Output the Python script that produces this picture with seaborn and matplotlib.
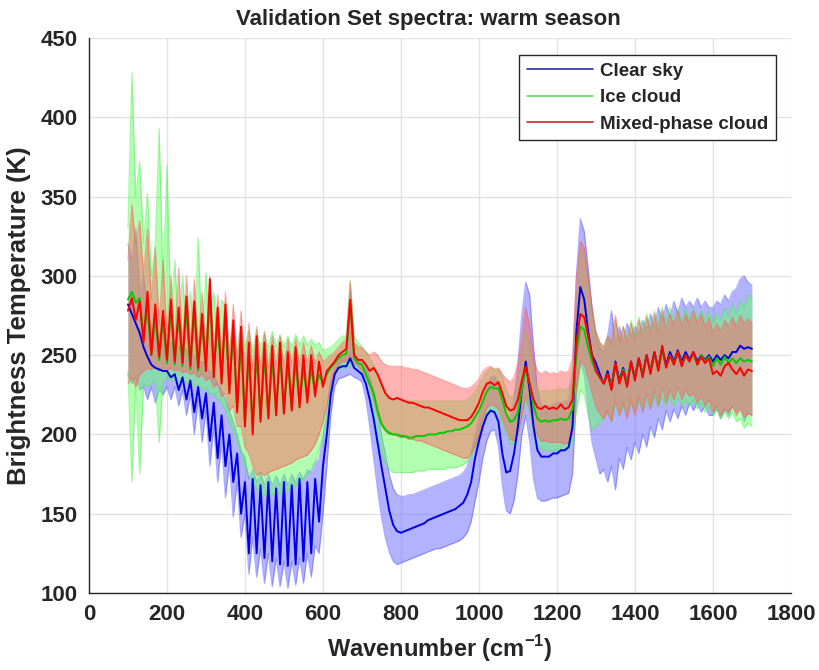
import numpy as np
import pandas as pd
import matplotlib
matplotlib.use("Agg")
import matplotlib.pyplot as plt
from matplotlib.lines import Line2D
import seaborn as sns

# ---------------- data ----------------
wavenumber = np.arange(100, 1701, 10)

clear_mean = [
    282, 276, 270, 264, 255, 249, 244, 242, 241, 240,
    240, 236, 238, 228, 236, 222, 234, 214, 230, 210,
    226, 196, 220, 185, 212, 180, 200, 170, 188, 150,
    170, 125, 172, 125, 168, 122, 170, 120, 166, 118,
    170, 117, 168, 118, 172, 120, 170, 125, 172, 145,
    180, 200, 225, 238, 242, 243, 243, 248, 242, 240,
    238, 232, 222, 210, 195, 180, 166, 152, 143, 139,
    138, 139, 140, 141, 142, 143, 144, 146, 147, 148,
    149, 150, 151, 152, 153, 155, 157, 162, 170, 185,
    196, 205, 212, 215, 214, 208, 188, 176, 177, 188,
    205, 228, 246, 228, 205, 190, 186, 186, 186, 188,
    188, 190, 190, 192, 205, 265, 293, 285, 265, 250,
    245, 238, 232, 240, 230, 246, 234, 242, 232, 246,
    236, 248, 238, 250, 240, 252, 242, 254, 244, 252,
    246, 253, 246, 252, 247, 252, 246, 250, 247, 250,
    246, 250, 247, 250, 248, 252, 252, 256, 254, 255,
    254]
clear_lo = [
    238, 232, 236, 228, 230, 222, 230, 220, 228, 225,
    230, 222, 230, 218, 228, 212, 225, 200, 222, 195,
    215, 180, 205, 170, 195, 160, 182, 148, 170, 135,
    150, 112, 135, 110, 128, 106, 125, 104, 122, 104,
    120, 103, 120, 105, 122, 106, 125, 110, 130, 125,
    150, 180, 212, 230, 235, 236, 237, 238, 236, 235,
    233, 222, 205, 185, 165, 148, 135, 126, 120, 118,
    119, 120, 121, 122, 123, 124, 125, 126, 127, 128,
    128, 129, 130, 131, 132, 133, 135, 138, 145, 158,
    170, 185, 196, 202, 203, 193, 168, 152, 150, 158,
    175, 200, 212, 196, 172, 160, 158, 158, 159, 160,
    160, 161, 162, 163, 175, 225, 245, 238, 215, 195,
    185, 175, 178, 170, 180, 165, 185, 178, 192, 184,
    195, 188, 200, 192, 205, 198, 210, 203, 215, 208,
    216, 210, 218, 212, 220, 215, 220, 214, 218, 212,
    212, 216, 210, 216, 212, 218, 214, 218, 208, 214,
    212]
clear_hi = [
    320, 310, 330, 290, 300, 280, 265, 270, 258, 262,
    256, 258, 254, 256, 252, 254, 250, 250, 246, 246,
    244, 240, 238, 232, 228, 222, 215, 208, 200, 190,
    185, 172, 178, 170, 176, 168, 175, 168, 174, 168,
    175, 168, 175, 170, 176, 172, 178, 176, 182, 185,
    198, 215, 235, 244, 248, 249, 250, 290, 249, 247,
    245, 242, 236, 228, 215, 200, 188, 175, 166, 162,
    161, 161, 162, 162, 163, 164, 165, 166, 167, 168,
    169, 170, 171, 172, 173, 174, 176, 180, 188, 200,
    210, 222, 230, 236, 237, 232, 222, 212, 210, 222,
    245, 275, 296, 288, 255, 228, 218, 218, 218, 219,
    220, 220, 221, 222, 240, 300, 336, 328, 305, 280,
    262, 255, 252, 262, 278, 258, 268, 258, 270, 262,
    268, 264, 272, 266, 276, 268, 280, 272, 282, 274,
    284, 276, 286, 280, 284, 280, 286, 280, 284, 280,
    280, 284, 282, 288, 284, 290, 292, 298, 300, 296,
    294]

ice_mean = [
    285, 290, 283, 286, 262, 280, 250, 275, 247, 272,
    245, 278, 244, 275, 243, 280, 241, 278, 240, 270,
    242, 290, 238, 272, 234, 275, 228, 265, 216, 258,
    208, 250, 204, 252, 210, 250, 212, 248, 214, 250,
    215, 245, 217, 246, 219, 242, 222, 242, 226, 238,
    232, 238, 242, 245, 248, 250, 251, 283, 248, 245,
    244, 238, 232, 226, 215, 207, 203, 201, 200, 200,
    199, 199, 198, 198, 199, 199, 199, 200, 200, 200,
    201, 201, 202, 202, 203, 203, 204, 205, 207, 211,
    215, 221, 227, 230, 229, 229, 222, 213, 208, 209,
    214, 228, 242, 232, 218, 210, 208, 209, 208, 209,
    209, 210, 209, 210, 216, 250, 268, 266, 255, 246,
    240, 236, 233, 238, 230, 244, 233, 241, 232, 245,
    236, 247, 238, 249, 240, 251, 242, 253, 243, 250,
    245, 252, 244, 250, 246, 251, 244, 250, 246, 249,
    243, 248, 244, 249, 245, 248, 245, 248, 246, 247,
    246]
ice_lo = [
    240, 170, 235, 175, 232, 230, 232, 234, 195, 234,
    236, 234, 236, 233, 235, 232, 234, 230, 232, 228,
    230, 225, 226, 222, 220, 215, 208, 202, 195, 188,
    180, 175, 168, 166, 162, 162, 161, 162, 162, 163,
    163, 165, 166, 168, 170, 172, 175, 178, 183, 190,
    198, 210, 228, 238, 241, 242, 242, 244, 242, 240,
    238, 232, 224, 212, 198, 188, 182, 178, 176, 176,
    176, 176, 176, 176, 177, 177, 177, 178, 178, 178,
    178, 178, 179, 179, 179, 180, 181, 183, 186, 192,
    199, 207, 213, 216, 215, 213, 208, 200, 194, 194,
    199, 210, 222, 214, 200, 194, 191, 190, 190, 190,
    190, 190, 190, 191, 196, 215, 228, 225, 212, 203,
    205, 208, 210, 214, 208, 220, 212, 218, 212, 220,
    214, 222, 215, 222, 216, 224, 217, 224, 218, 224,
    218, 224, 218, 222, 218, 222, 216, 220, 214, 218,
    212, 216, 210, 214, 210, 214, 208, 210, 204, 207,
    205]
ice_hi = [
    330, 428, 350, 372, 320, 352, 300, 320, 393, 295,
    370, 275, 310, 265, 300, 262, 290, 260, 324, 258,
    302, 256, 290, 255, 285, 280, 254, 270, 252, 268,
    255, 265, 252, 266, 254, 264, 254, 265, 255, 263,
    255, 262, 255, 263, 256, 262, 256, 260, 256, 258,
    253, 254, 255, 257, 260, 262, 262, 297, 262, 258,
    255, 252, 248, 244, 238, 230, 226, 223, 222, 222,
    221, 221, 221, 221, 221, 221, 221, 221, 221, 221,
    221, 221, 221, 221, 221, 221, 221, 222, 224, 227,
    231, 236, 240, 242, 241, 241, 236, 228, 223, 225,
    235, 250, 266, 256, 236, 229, 227, 228, 227, 228,
    228, 229, 228, 229, 238, 282, 318, 312, 295, 276,
    264, 258, 255, 262, 256, 272, 258, 268, 260, 272,
    263, 274, 265, 276, 267, 278, 268, 280, 270, 280,
    270, 280, 271, 279, 272, 280, 272, 278, 272, 278,
    270, 276, 272, 280, 274, 282, 276, 284, 280, 288,
    286]

mix_mean = [
    278, 286, 272, 284, 258, 290, 250, 282, 249, 278,
    247, 285, 246, 280, 245, 287, 243, 284, 242, 276,
    240, 298, 236, 280, 232, 282, 226, 272, 214, 268,
    205, 258, 200, 262, 208, 258, 210, 256, 212, 258,
    213, 252, 215, 255, 217, 250, 220, 250, 224, 246,
    230, 240, 243, 246, 250, 252, 254, 285, 250, 247,
    247, 244, 240, 242, 238, 232, 226, 223, 222, 223,
    222, 221, 220, 220, 219, 218, 217, 217, 216, 215,
    214, 213, 212, 211, 210, 209, 209, 209, 211, 215,
    220, 227, 232, 233, 231, 233, 226, 218, 215, 216,
    222, 234, 243, 232, 222, 217, 216, 218, 216, 217,
    216, 219, 216, 217, 222, 258, 276, 274, 262, 250,
    240, 236, 232, 238, 228, 245, 232, 240, 230, 246,
    234, 248, 236, 250, 238, 252, 240, 256, 242, 250,
    244, 252, 243, 250, 246, 252, 244, 249, 245, 248,
    238, 240, 237, 243, 245, 241, 238, 242, 237, 241,
    240]
mix_lo = [
    232, 236, 230, 238, 240, 242, 241, 243, 240, 242,
    240, 242, 240, 241, 239, 240, 238, 239, 236, 238,
    234, 236, 230, 232, 224, 226, 215, 218, 205, 205,
    192, 188, 180, 174, 176, 174, 176, 177, 178, 179,
    180, 181, 182, 184, 185, 186, 187, 190, 194, 200,
    208, 218, 232, 240, 244, 246, 246, 250, 245, 243,
    240, 236, 230, 222, 212, 205, 202, 200, 200, 199,
    198, 198, 197, 197, 196, 196, 195, 194, 193, 192,
    191, 190, 189, 188, 187, 186, 185, 185, 188, 193,
    200, 210, 217, 219, 218, 216, 210, 203, 197, 196,
    200, 212, 225, 216, 205, 199, 196, 196, 195, 195,
    195, 195, 194, 195, 200, 230, 246, 244, 236, 226,
    217, 213, 210, 215, 208, 222, 212, 220, 210, 222,
    212, 224, 214, 226, 216, 228, 218, 230, 220, 228,
    222, 230, 222, 228, 224, 226, 220, 224, 218, 222,
    214, 218, 212, 216, 214, 218, 212, 216, 211, 213,
    212]
mix_hi = [
    310, 345, 320, 335, 300, 330, 285, 318, 270, 310,
    262, 300, 258, 305, 256, 300, 255, 298, 254, 290,
    253, 300, 250, 288, 250, 290, 248, 282, 245, 278,
    240, 270, 240, 268, 242, 265, 242, 262, 243, 262,
    243, 260, 244, 260, 244, 258, 245, 256, 245, 252,
    246, 248, 250, 252, 255, 258, 260, 296, 258, 255,
    255, 252, 250, 252, 250, 246, 244, 243, 243, 243,
    243, 242, 242, 241, 241, 240, 239, 238, 237, 236,
    235, 234, 233, 232, 231, 230, 229, 229, 230, 232,
    235, 240, 242, 243, 241, 242, 238, 235, 233, 236,
    245, 262, 280, 268, 248, 240, 238, 240, 238, 239,
    238, 240, 239, 240, 248, 300, 322, 318, 300, 280,
    265, 258, 255, 262, 258, 275, 258, 268, 258, 270,
    260, 272, 262, 274, 264, 276, 265, 278, 266, 276,
    268, 278, 268, 276, 270, 278, 270, 276, 268, 274,
    264, 270, 265, 272, 268, 274, 268, 275, 270, 273,
    270]

series_names = ["Clear sky", "Ice cloud", "Mixed-phase cloud"]
x_ticks = [0, 200, 400, 600, 800, 1000, 1200, 1400, 1600, 1800]
y_ticks = [100, 150, 200, 250, 300, 350, 400, 450]

# ---------------- style ----------------
sns.set_theme(style="whitegrid")
plt.rcParams["font.family"] = ["Liberation Sans", "DejaVu Sans"]
plt.rcParams["font.weight"] = "bold"
plt.rcParams["mathtext.fontset"] = "custom"
plt.rcParams["mathtext.rm"] = "Liberation Sans:bold"
plt.rcParams["mathtext.bf"] = "Liberation Sans:bold"

fig = plt.figure(figsize=(8.2, 6.7), dpi=100)
ax = fig.add_axes([0.1085, 0.1149, 0.856, 0.8284])
ax.set_facecolor("white")

line_cols = {"Clear sky": "#0000e6", "Ice cloud": "#00cc00", "Mixed-phase cloud": "#ff0000"}
fill_cols = {"Clear sky": "#6666ff", "Ice cloud": "#66ff66", "Mixed-phase cloud": "#ff6666"}
edge_cols = {"Clear sky": "#5555ff", "Ice cloud": "#44ee44", "Mixed-phase cloud": "#ff5555"}
legend_cols = {"Clear sky": "#2b2ba0", "Ice cloud": "#5ddc5d", "Mixed-phase cloud": "#d0202c"}

bands = {
    "Clear sky": (clear_lo, clear_mean, clear_hi),
    "Ice cloud": (ice_lo, ice_mean, ice_hi),
    "Mixed-phase cloud": (mix_lo, mix_mean, mix_hi),
}

for name in series_names:
    lo, mean, hi = bands[name]
    ax.fill_between(wavenumber, lo, hi, color=fill_cols[name], alpha=0.5, lw=0, zorder=2)
    ax.plot(wavenumber, lo, color=edge_cols[name], alpha=0.45, lw=0.9, zorder=2)
    ax.plot(wavenumber, hi, color=edge_cols[name], alpha=0.45, lw=0.9, zorder=2)

rows = []
for name in series_names:
    _, mean, _ = bands[name]
    for w, v in zip(wavenumber, mean):
        rows.append({"wn": w, "bt": v, "sky": name})
df = pd.DataFrame(rows)
for name in series_names:
    sub = df[df["sky"] == name]
    sns.lineplot(data=sub, x="wn", y="bt", color=line_cols[name], lw=1.4,
                 estimator=None, sort=False, ax=ax, legend=False, zorder=3)

ax.set_xlim(0, 1800)
ax.set_ylim(100, 450)
ax.set_xticks(x_ticks)
ax.set_yticks(y_ticks)
ax.grid(True, color="#e3e3e3", lw=1.0, zorder=0)
ax.set_axisbelow(True)
for s in ["top", "right"]:
    ax.spines[s].set_visible(False)
for s in ["left", "bottom"]:
    ax.spines[s].set_visible(True)
    ax.spines[s].set_color("#262626")
    ax.spines[s].set_linewidth(1.0)
ax.tick_params(axis="both", direction="in", length=5, width=1, color="#262626",
               labelsize=16, labelcolor="#262626")
ax.tick_params(axis="x", pad=8)
ax.tick_params(axis="y", pad=8)
for lab in ax.get_xticklabels() + ax.get_yticklabels():
    lab.set_fontweight("bold")

ax.set_title("Validation Set spectra: warm season", fontsize=16, fontweight="bold",
             color="#262626", pad=9, x=0.484)
ax.set_xlabel(r"Wavenumber (cm$^{-1}$)", fontsize=17, fontweight="bold", color="#262626", labelpad=6)
ax.set_ylabel("Brightness Temperature (K)", fontsize=18.5, fontweight="bold", color="#262626", labelpad=7)

handles = [Line2D([0], [0], color=legend_cols[n], lw=1.2) for n in series_names]
leg = ax.legend(handles, series_names, loc="upper right", bbox_to_anchor=(0.9786, 0.9694),
                borderaxespad=0, handlelength=3.5, handletextpad=0.4,
                labelspacing=0.5, borderpad=0.4, fancybox=False, framealpha=1,
                edgecolor="#262626", prop={"weight": "bold", "size": 13.5})
leg.get_frame().set_linewidth(1.0)
leg.set_zorder(5)

fig.savefig("out.png", dpi=100)
